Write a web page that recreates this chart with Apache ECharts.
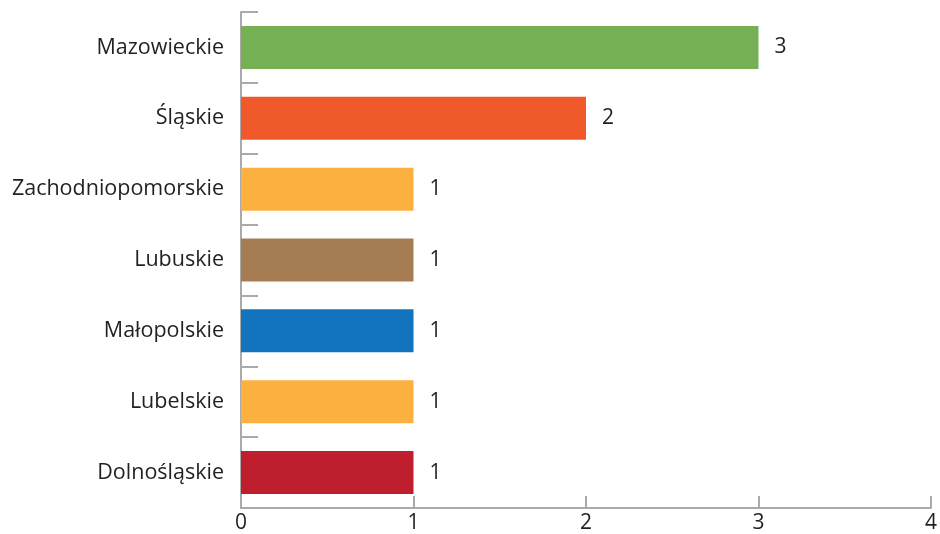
<!DOCTYPE html>
<html><head><meta charset="utf-8">
<script src="https://cdn.jsdelivr.net/npm/echarts@6/dist/echarts.min.js"></script>
<style>html,body{margin:0;padding:0;background:#fff}#c{width:940px;height:534px}</style>
</head><body><div id="c"></div>
<script>
const categories = ["Mazowieckie","Śląskie","Zachodniopomorskie","Lubuskie","Małopolskie","Lubelskie","Dolnośląskie"];
const values = [3,2,1,1,1,1,1];
const colors = ["#76b054","#f05a2a","#fbb040","#a67c52","#1273be","#fbb040","#be1e2d"];
const xTicks = [0,1,2,3,4];

const chart = echarts.init(document.getElementById('c'));
const font = "'Open Sans', sans-serif";
chart.setOption({
  animation:false,
  grid:{left:241,right:6,top:12,bottom:26,containLabel:false},
  xAxis:{type:'value',min:xTicks[0],max:xTicks[xTicks.length-1],interval:1,
    axisLine:{show:true,lineStyle:{color:'#aaaaaa',width:2}},
    axisTick:{show:true,inside:true,length:12,lineStyle:{color:'#aaaaaa',width:2}},
    splitLine:{show:false},
    axisLabel:{color:'#231f20',fontSize:21,fontFamily:font,margin:5}},
  yAxis:{type:'category',data:categories,inverse:true,
    axisLine:{show:true,lineStyle:{color:'#aaaaaa',width:2}},
    axisTick:{show:true,inside:true,length:17,lineStyle:{color:'#aaaaaa',width:2}},
    axisLabel:{color:'#231f20',fontSize:21.5,fontFamily:font,margin:17}},
  series:[{type:'bar',barWidth:43,
    data:values.map((v,i)=>({value:v,itemStyle:{color:colors[i]}})),
    label:{show:true,position:'right',distance:16,color:'#231f20',fontSize:21,fontFamily:font}}]
});
</script></body></html>
